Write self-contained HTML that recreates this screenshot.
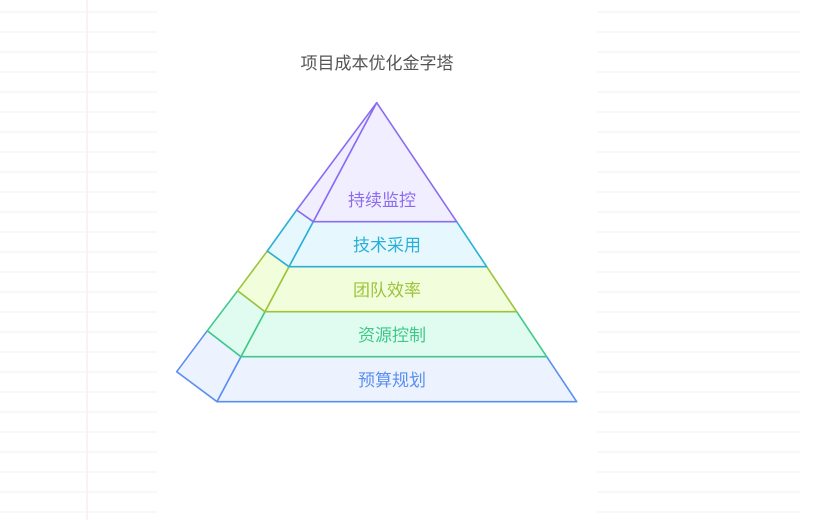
<!DOCTYPE html>
<html><head><meta charset="utf-8"><style>
html,body{margin:0;padding:0;background:#fff}
body{width:835px;height:520px;overflow:hidden;position:relative;
background-image:repeating-linear-gradient(to bottom,transparent 0,transparent 11px,#f8f8f8 11px,#f8f8f8 13px,transparent 13px,transparent 20px);}
.white{position:absolute;left:157px;top:0;width:440px;height:520px;background:#fff}
.rwhite{position:absolute;left:800px;top:0;width:35px;height:520px;background:#fff}
.margin{position:absolute;left:86px;top:0;width:2px;height:520px;background:#fdf0f0}
svg{position:absolute;left:0;top:0}
text{font-family:"Liberation Sans","Noto Sans CJK SC",sans-serif;font-size:17px;text-anchor:middle}
</style></head><body>
<div class="margin"></div><div class="white"></div><div class="rwhite"></div>
<svg width="835" height="520" viewBox="0 0 835 520">
<text x="377" y="69" fill="#555">项目成本优化金字塔</text>
<g stroke-width="1.6" stroke-linejoin="round">
<polygon points="176.7,371.7 217,401.7 241,356.7 207.3,330.7" fill="#ecf3ff" stroke="#5b8ff0"/>
<polygon points="207.3,330.7 241,356.7 265,311.7 237.7,290.7" fill="#e0fbef" stroke="#3ec98a"/>
<polygon points="237.7,290.7 265,311.7 289,266.7 267.3,251" fill="#f2fddc" stroke="#9cc43a"/>
<polygon points="267.3,251 289,266.7 313.3,221.7 296.7,210" fill="#e6f8fd" stroke="#2ab0d8"/>
<polygon points="296.7,210 313.3,221.7 376.7,102.7" fill="#f1efff" stroke="#8b6cf0"/>
<polygon points="217,401.7 576.7,401.7 546.7,356.7 241,356.7" fill="#ecf3ff" stroke="#5b8ff0"/>
<polygon points="241,356.7 546.7,356.7 516.7,311.7 265,311.7" fill="#e0fbef" stroke="#3ec98a"/>
<polygon points="265,311.7 516.7,311.7 486.7,266.7 289,266.7" fill="#f2fddc" stroke="#9cc43a"/>
<polygon points="289,266.7 486.7,266.7 456.7,221.7 313.3,221.7" fill="#e6f8fd" stroke="#2ab0d8"/>
<polygon points="313.3,221.7 456.7,221.7 376.7,102.7" fill="#f1efff" stroke="#8b6cf0"/>
</g>
<text x="382" y="206" fill="#8b6cf0">持续监控</text>
<text x="387" y="251" fill="#2ab0d8">技术采用</text>
<text x="387" y="296" fill="#9cc43a">团队效率</text>
<text x="392" y="341" fill="#3ec98a">资源控制</text>
<text x="392" y="386" fill="#5b8ff0">预算规划</text>
</svg>
</body></html>
